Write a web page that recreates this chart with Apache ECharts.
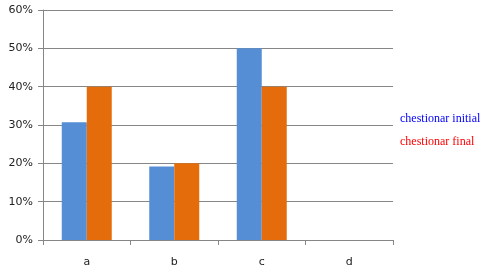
<!DOCTYPE html>
<html><head><meta charset="utf-8">
<script src="https://cdn.jsdelivr.net/npm/echarts@6/dist/echarts.min.js"></script>
<style>html,body{margin:0;padding:0;background:#fff}#c{width:492px;height:277px}</style>
</head><body><div id="c"></div>
<script>
var categories = ['a', 'b', 'c', 'd'];
var initialValues = [30.7, 19.2, 50, 0];
var finalValues = [40, 20, 40, 0];
var seriesNames = ['chestionar initial', 'chestionar final'];
var yTicks = [0, 10, 20, 30, 40, 50, 60];

var chart = echarts.init(document.getElementById('c'));
chart.setOption({
  animation: false,
  backgroundColor: '#fff',
  grid: {left: 43, right: 99, top: 10, bottom: 37},
  legend: {
    orient: 'vertical', left: 390, top: 107, itemGap: 10, icon: 'none', itemWidth: 0,
    selectedMode: false,
    data: [
      {name: seriesNames[0], textStyle: {color: '#0000ff'}},
      {name: seriesNames[1], textStyle: {color: '#ff0000'}}
    ],
    textStyle: {fontFamily: 'Liberation Serif', fontSize: 12, padding: 0}
  },
  xAxis: {
    type: 'category', data: categories,
    axisLine: {lineStyle: {color: '#868686', width: 1}},
    axisTick: {show: true, length: 5, lineStyle: {color: '#868686'}},
    axisLabel: {color: '#222', fontFamily: 'DejaVu Sans', fontSize: 11, margin: 17}
  },
  yAxis: {
    type: 'value', min: 0, max: 60, interval: 10,
    axisLine: {show: true, lineStyle: {color: '#868686'}},
    axisTick: {show: true, length: 5, lineStyle: {color: '#868686'}},
    splitLine: {lineStyle: {color: '#868686', width: 1}},
    axisLabel: {color: '#222', fontFamily: 'DejaVu Sans', fontSize: 11, margin: 10,
      formatter: function(v){ return v + '%'; }}
  },
  series: [
    {name: seriesNames[0], type: 'bar', data: initialValues, barWidth: 25, barGap: '0%',
     itemStyle: {color: '#558ed5'}},
    {name: seriesNames[1], type: 'bar', data: finalValues, barWidth: 25, barGap: '0%',
     itemStyle: {color: '#e46c0a'}}
  ]
});
</script></body></html>
